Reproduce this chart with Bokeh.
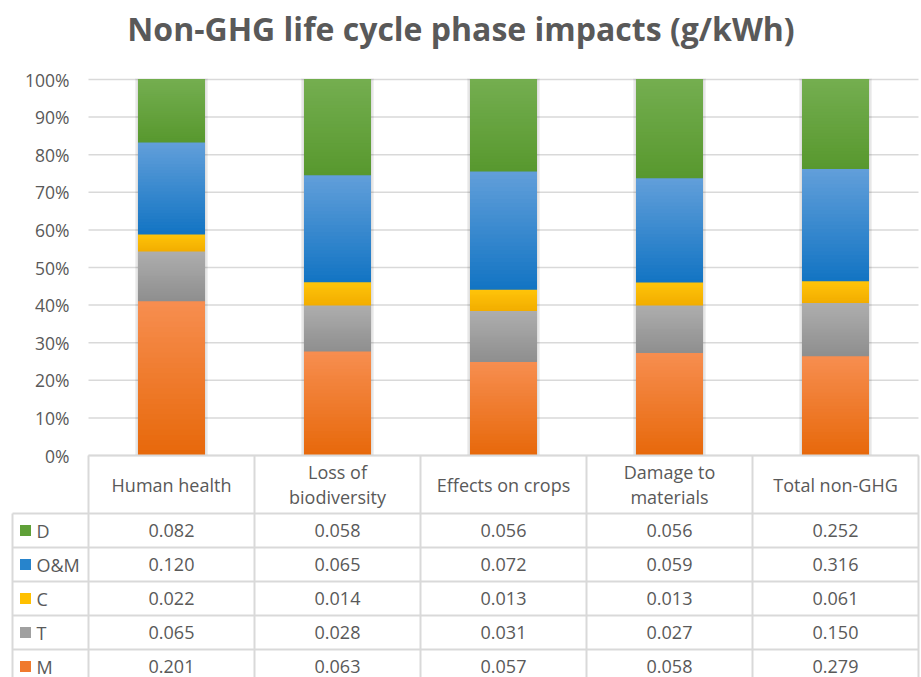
import numpy as np
from bokeh.plotting import figure
from bokeh.models import ColumnDataSource, Range1d
from bokeh.core.properties import value
from bokeh.embed import file_html
from bokeh.resources import INLINE

# ---------------- data ----------------
categories = ["Human health", "Loss of\nbiodiversity", "Effects on crops",
              "Damage to\nmaterials", "Total non-GHG"]
phases_table = ["D", "O&M", "C", "T", "M"]          # table order, top to bottom
D_vals = [0.082, 0.058, 0.056, 0.056, 0.252]
OM_vals = [0.120, 0.065, 0.072, 0.059, 0.316]
C_vals = [0.022, 0.014, 0.013, 0.013, 0.061]
T_vals = [0.065, 0.028, 0.031, 0.027, 0.150]
M_vals = [0.201, 0.063, 0.057, 0.058, 0.279]
y_ticks = [0.0, 0.1, 0.2, 0.3, 0.4, 0.5, 0.6, 0.7, 0.8, 0.9, 1.0]
y_tick_labels = ["0%", "10%", "20%", "30%", "40%", "50%", "60%", "70%",
                 "80%", "90%", "100%"]

series = {"D": D_vals, "O&M": OM_vals, "C": C_vals, "T": T_vals, "M": M_vals}
stack_order = ["M", "T", "C", "O&M", "D"]            # bottom to top

# ---------------- styles ----------------
grad = {  # (bottom colour, top colour)
    "D": ("#58982E", "#74AE50"),
    "O&M": ("#1274C3", "#629FDA"),
    "C": ("#F2AD00", "#FFC40A"),
    "T": ("#8E8E8E", "#AEAEAE"),
    "M": ("#E7680A", "#F78E50"),
}
key_color = {"D": "#5FA038", "O&M": "#2784CC", "C": "#FFC000",
             "T": "#A0A0A0", "M": "#F07A2E"}
TXT = "#595959"
LINE = "#D9D9D9"
FONT = value("Open Sans")

FIG_W, FIG_H = 921, 677
UX = 166.0          # px per category column
UY = 376.0          # px per 100 %
FRAME_TOP = 49      # px where the frame starts (below title)
TOP_PX = 79         # px of 100 %
ZERO_PX = 455       # px of 0 %
DATA_LEFT_PX = 88   # px of table data start
LABEL_LEFT_PX = 12
HDR = 58 / UY
ROW = 34 / UY
BAR_W = 67 / UX
N_BANDS = 30

x_start = -0.5 - DATA_LEFT_PX / UX
x_end = x_start + FIG_W / UX
y_start = -(FIG_H - ZERO_PX) / UY
y_end = 1 + (TOP_PX - FRAME_TOP) / UY


def hex2rgb(h):
    h = h.lstrip("#")
    return np.array([int(h[i:i + 2], 16) for i in (0, 2, 4)], dtype=float)


def rgb2hex(c):
    c = np.clip(np.round(c), 0, 255).astype(int)
    return "#%02x%02x%02x" % tuple(c)


p = figure(width=FIG_W, height=FIG_H, output_backend="svg", toolbar_location=None,
           x_range=Range1d(x_start, x_end), y_range=Range1d(y_start, y_end),
           min_border=0, min_border_top=FRAME_TOP, outline_line_color=None,
           title="Non-GHG life cycle phase impacts (g/kWh)")
p.title.text_font = "Open Sans"
p.title.text_font_style = "bold"
p.title.text_font_size = "32px"
p.title.text_color = TXT
p.title.align = "center"
p.title.standoff = 0
p.xaxis.visible = False
p.yaxis.visible = False
p.xgrid.visible = False
p.ygrid.visible = False
p.background_fill_color = "white"
p.border_fill_color = "white"

ncat = len(categories)
xs = np.arange(ncat, dtype=float)

# ---------------- gridlines + y tick labels ----------------
p.segment(x0=[-0.5] * len(y_ticks), x1=[ncat - 0.5] * len(y_ticks),
          y0=y_ticks, y1=y_ticks, line_color=LINE, line_width=1.5)
p.text(x=[x_start + 69 / UX] * len(y_ticks), y=y_ticks, text=y_tick_labels,
       text_font=FONT, text_font_size="17.5px", text_color=TXT,
       text_align="right", text_baseline="middle")

# ---------------- stacked 100 % bars ----------------
totals = np.sum([series[s] for s in stack_order], axis=0)
# faint shadow
p.quad(left=xs - BAR_W / 2 - 3 / UX, right=xs + BAR_W / 2 + 3 / UX,
       bottom=np.zeros(ncat), top=np.ones(ncat) + 1 / UY,
       fill_color="#000000", fill_alpha=0.06, line_color=None)
p.quad(left=xs - BAR_W / 2 - 1.5 / UX, right=xs + BAR_W / 2 + 1.5 / UX,
       bottom=np.zeros(ncat), top=np.ones(ncat) + 0.5 / UY,
       fill_color="#000000", fill_alpha=0.07, line_color=None)

base = np.zeros(ncat)
for s in stack_order:
    frac = np.array(series[s]) / totals
    bot, top = base.copy(), base + frac
    c0, c1 = hex2rgb(grad[s][0]), hex2rgb(grad[s][1])
    L, R, B, T_, C = [], [], [], [], []
    for i in range(ncat):
        for k in range(N_BANDS):
            t = (k + 0.5) / N_BANDS
            L.append(xs[i] - BAR_W / 2)
            R.append(xs[i] + BAR_W / 2)
            B.append(bot[i] + (top[i] - bot[i]) * k / N_BANDS)
            T_.append(top[i])
            C.append(rgb2hex(c0 + (c1 - c0) * t))
    src = ColumnDataSource(dict(left=L, right=R, bottom=B, top=T_, color=C))
    p.quad(left="left", right="right", bottom="bottom", top="top",
           fill_color="color", line_color=None, source=src)
    base = top

# ---------------- data table ----------------
row_edges = [-HDR - r * ROW for r in range(len(phases_table) + 1)]
lx = x_start + LABEL_LEFT_PX / UX
# horizontal lines
p.segment(x0=[-0.5], x1=[ncat - 0.5], y0=[0], y1=[0], line_color=LINE, line_width=2)
p.segment(x0=[lx] * len(row_edges), x1=[ncat - 0.5] * len(row_edges),
          y0=row_edges, y1=row_edges, line_color=LINE, line_width=2)
# vertical lines
vx = [j - 0.5 for j in range(ncat + 1)]
p.segment(x0=vx, x1=vx, y0=[0] * len(vx), y1=[row_edges[-1]] * len(vx),
          line_color=LINE, line_width=2)
p.segment(x0=[lx], x1=[lx], y0=[row_edges[0]], y1=[row_edges[-1]],
          line_color=LINE, line_width=2)

# header texts
p.text(x=xs, y=[-HDR / 2] * ncat, text=categories, text_font=FONT,
       text_font_size="18px", text_color=TXT, text_align="center",
       text_baseline="middle", text_line_height=1.07)

# rows
for r, s in enumerate(phases_table):
    yc = -HDR - (r + 0.5) * ROW
    p.scatter(x=[x_start + 25 / UX], y=[yc], marker="square", size=11,
              fill_color=key_color[s], line_color=None)
    p.text(x=[x_start + 36 / UX], y=[yc], text=[s], text_font=FONT,
           text_font_size="18px", text_color=TXT, text_align="left",
           text_baseline="middle")
    p.text(x=xs, y=[yc] * ncat, text=["%.3f" % v for v in series[s]],
           text_font=FONT, text_font_size="18px", text_color=TXT,
           text_align="center", text_baseline="middle")

open("out.html", "w").write(file_html(p, INLINE))
